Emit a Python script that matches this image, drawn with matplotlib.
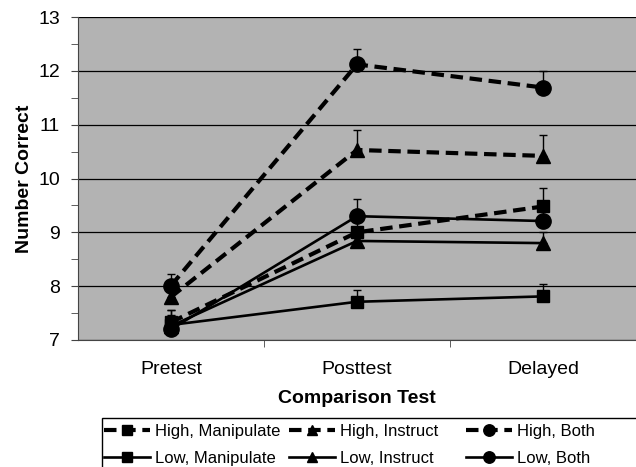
import matplotlib.pyplot as plt
from matplotlib.patches import Rectangle

plt.rcParams['font.family'] = ['Liberation Sans', 'DejaVu Sans']

tests = ["Pretest", "Posttest", "Delayed"]

high_manipulate = [7.33, 9.00, 9.48]
high_instruct = [7.80, 10.53, 10.42]
high_both = [8.01, 12.12, 11.69]
low_manipulate = [7.28, 7.71, 7.81]
low_instruct = [7.26, 8.84, 8.80]
low_both = [7.20, 9.30, 9.21]

# upper error bars only
err_high_manipulate = [0.23, 0.30, 0.34]
err_high_instruct = [0.30, 0.37, 0.39]
err_high_both = [0.21, 0.29, 0.30]
err_low_manipulate = [0.28, 0.21, 0.23]
err_low_instruct = [0.20, 0.20, 0.20]
err_low_both = [0.25, 0.31, 0.25]

series = [
    ("High, Manipulate", high_manipulate, err_high_manipulate, 's', '--'),
    ("Low, Manipulate", low_manipulate, err_low_manipulate, 's', '-'),
    ("High, Instruct", high_instruct, err_high_instruct, '^', '--'),
    ("Low, Instruct", low_instruct, err_low_instruct, '^', '-'),
    ("High, Both", high_both, err_high_both, 'o', '--'),
    ("Low, Both", low_both, err_low_both, 'o', '-'),
]
marker_size = {'s': 9, '^': 10.5, 'o': 11}

fig = plt.figure(figsize=(6.36, 4.67), dpi=100)
ax = fig.add_axes([78 / 636, 1 - 340 / 467, 1 - 78 / 636, (340 - 17) / 467])
ax.set_facecolor('#b3b3b3')

x = list(range(len(tests)))
handles = []
for name, vals, err, mk, ls in series:
    ax.errorbar(x, vals, yerr=[[0] * len(err), err], fmt='none',
                ecolor='black', elinewidth=1, capsize=3, capthick=1, zorder=3)
    lw = 3 if ls == '--' else 1.9
    h, = ax.plot(x, vals, linestyle=ls, color='black', linewidth=lw,
                 marker=mk, markersize=marker_size[mk], zorder=4, label=name,
                 dashes=(3, 1.6) if ls == '--' else (None, None))
    handles.append(h)

ax.set_xlim(-0.5, 2.5)
ax.set_ylim(7, 13)
ax.set_yticks(range(7, 14))
ax.set_yticks([7.5 + i for i in range(6)], minor=True)
ax.set_xticks(x)
ax.set_xticklabels(tests, fontsize=14)
ax.set_xticks([0.5, 1.5], minor=True)
ax.tick_params(axis='x', which='major', length=0, pad=15)
ax.tick_params(axis='x', which='minor', length=5, color='#444444')
ax.tick_params(axis='y', which='both', length=5, color='#444444')
ax.tick_params(axis='y', which='major', labelsize=14, pad=8)
ax.grid(axis='y', which='major', color='black', linewidth=0.9)
ax.set_axisbelow(True)
for s in ['top', 'right']:
    ax.spines[s].set_visible(False)
ax.spines['left'].set_color('#444444')
ax.spines['bottom'].set_color('#444444')

ax.set_xlabel("Comparison Test", fontsize=14, fontweight='bold', labelpad=9)
ax.set_ylabel("Number Correct", fontsize=14, fontweight='bold', labelpad=4)

fig.patches.append(Rectangle((102 / 636, -0.05), 1.0, 0.05 + (467 - 418) / 467,
                             transform=fig.transFigure, facecolor='white',
                             edgecolor='black', linewidth=1))
col_x = [104, 289, 466]
for i, cx in enumerate(col_x):
    fig.legend(handles=handles[2 * i:2 * i + 2], loc='upper left',
               bbox_to_anchor=(cx / 636, 1 - 424 / 467), frameon=False,
               borderpad=0, borderaxespad=0,
               fontsize=12, handlelength=2.75, handletextpad=0.3,
               labelspacing=0.7, markerscale=0.75)

fig.savefig("out.png", dpi=100)
